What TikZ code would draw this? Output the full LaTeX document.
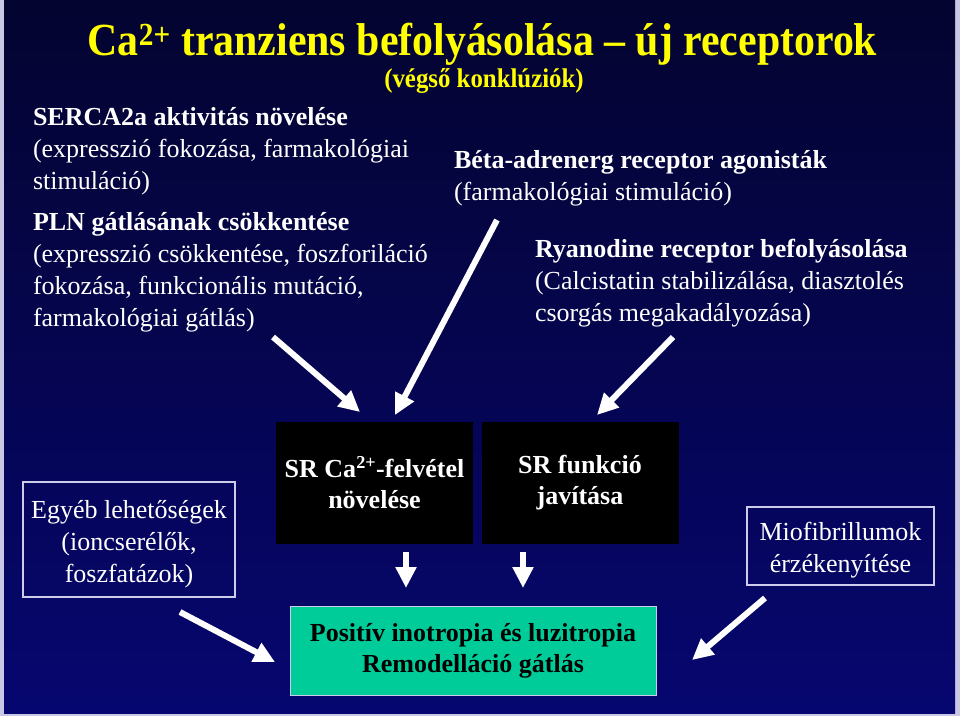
\documentclass[tikz,border=0pt]{standalone}
\usepackage{fontspec}
\setmainfont{Liberation Serif}
\usetikzlibrary{arrows.meta}
\definecolor{navytop}{RGB}{4,4,48}
\definecolor{navybot}{RGB}{6,6,112}
\definecolor{frame}{RGB}{200,200,228}
\definecolor{boxline}{RGB}{205,205,235}
\definecolor{mint}{RGB}{0,204,153}
\definecolor{ttl}{RGB}{255,255,0}
\begin{document}
\begin{tikzpicture}[x=1pt,y=-1pt,
  line/.style={inner sep=0pt, outer sep=0pt, text=white, font=\fontsize{26}{32}\selectfont},
  bline/.style={line, font=\fontsize{26}{32}\selectfont\bfseries},
  blackbox/.style={fill=black, draw=none, minimum width=197pt, minimum height=122pt, inner sep=0pt,
     text=white, align=center, font=\fontsize{26}{31}\selectfont\bfseries},
  outbox/.style={draw=boxline, line width=1.3pt, inner sep=0pt},
  boxtext/.style={inner sep=0pt, text=white, align=center, font=\fontsize{26}{32}\selectfont},
  greenbox/.style={fill=mint, draw=boxline, line width=1pt, inner sep=0pt, text=black, align=center,
     font=\fontsize{26}{31}\selectfont\bfseries},
  bigarrow/.style={draw=white, line width=6pt, -{Triangle[length=21pt,width=20pt]}}
]
\useasboundingbox (0,0) rectangle (960,716);
\fill[frame] (0,0) rectangle (960,716);
\shade[top color=navytop, bottom color=navybot] (4,0) rectangle (955,713);

% title
\node[inner sep=0pt, text=ttl, font=\fontsize{46}{50}\selectfont\bfseries, anchor=base] (title) at (482.5,55)
  {\scalebox{0.91}[1]{Ca\textsuperscript{2+} tranziens befolyásolása – új receptorok}};
\node[inner sep=0pt, text=ttl, font=\fontsize{27}{30}\selectfont\bfseries, anchor=base] (subtitle) at (484,87)
  {\scalebox{0.92}[1]{(végső konklúziók)}};

% left block
\node[bline, anchor=base west] (l1) at (33,125) {SERCA2a aktivitás növelése};
\node[line, anchor=base west] (l2) at (33,157) {(expresszió fokozása, farmakológiai};
\node[line, anchor=base west] (l3) at (33,189) {stimuláció)};
\node[bline, anchor=base west] (l4) at (33,230) {PLN gátlásának csökkentése};
\node[line, anchor=base west] (l5) at (33,262) {(expresszió csökkentése, foszforiláció};
\node[line, anchor=base west] (l6) at (33,294) {fokozása, funkcionális mutáció,};
\node[line, anchor=base west] (l7) at (33,326) {farmakológiai gátlás)};

% right block
\node[bline, anchor=base west] (r1) at (454,168) {Béta-adrenerg receptor agonisták};
\node[line, anchor=base west] (r2) at (454,200) {(farmakológiai stimuláció)};
\node[bline, anchor=base west] (r3) at (535,257) {Ryanodine receptor befolyásolása};
\node[line, anchor=base west] (r4) at (535,289) {(Calcistatin stabilizálása, diasztolés};
\node[line, anchor=base west] (r5) at (535,321) {csorgás megakadályozása)};

% boxes
\node[blackbox] (srca) at (374.5,483) {SR Ca\textsuperscript{2+}-felvétel\\növelése};
\node[blackbox] (srfun) at (580,483) {SR funkció\\javítása};
\node[outbox, minimum width=212pt, minimum height=115pt] (egyeb) at (129,539.5) {};
\node[boxtext] (egyebtext) at (129,544.5) {Egyéb lehetőségek\\(ioncserélők,\\foszfatázok)};
\node[outbox, minimum width=187pt, minimum height=78pt] (miof) at (840.5,546) {};
\node[boxtext] (mioftext) at (840.5,550) {Miofibrillumok\\érzékenyítése};
\node[greenbox, minimum width=366pt, minimum height=89pt] (pos) at (473,650.5)
  {Positív inotropia és luzitropia\\Remodelláció gátlás};

% arrow end points
\coordinate (a1s) at (273,337); \coordinate (a1e) at (360,412);
\coordinate (a2s) at (497,220); \coordinate (a2e) at (395,415);
\coordinate (a3s) at (673,337); \coordinate (a3e) at (597,415);
\coordinate (a4s) at (406,552); \coordinate (a4e) at (406,588);
\coordinate (a5s) at (523,552); \coordinate (a5e) at (523,588);
\coordinate (a6s) at (180,612); \coordinate (a6e) at (275,662);
\coordinate (a7s) at (765,598); \coordinate (a7e) at (692,660);

\draw[bigarrow] (a1s) -- (a1e);
\draw[bigarrow] (a2s) -- (a2e);
\draw[bigarrow] (a3s) -- (a3e);
\draw[bigarrow] (a4s) -- (a4e);
\draw[bigarrow] (a5s) -- (a5e);
\draw[bigarrow] (a6s) -- (a6e);
\draw[bigarrow] (a7s) -- (a7e);
\end{tikzpicture}
\end{document}
